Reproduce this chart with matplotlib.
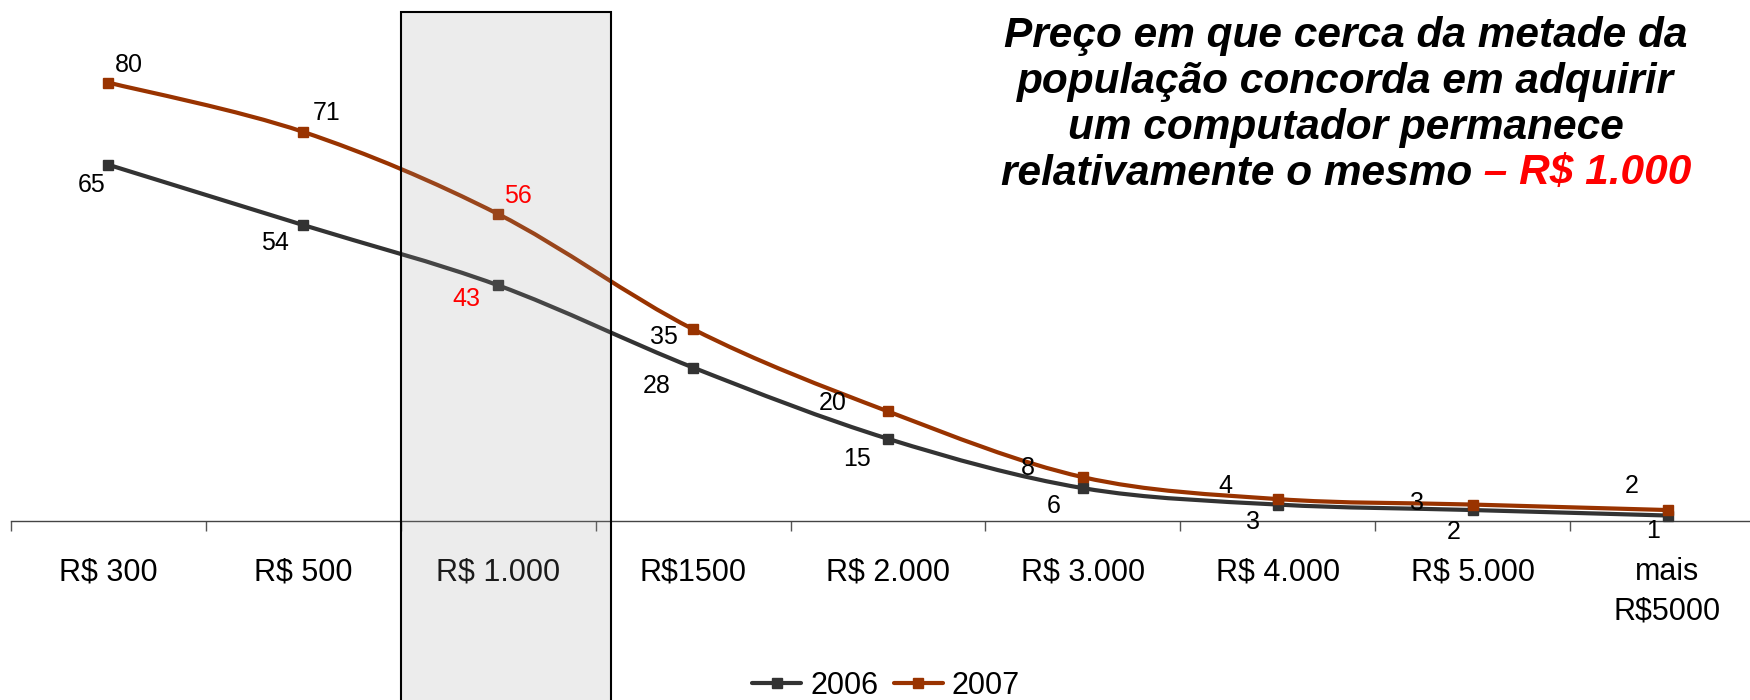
import matplotlib
matplotlib.use("Agg")
import matplotlib.pyplot as plt
from matplotlib.path import Path
from matplotlib.patches import PathPatch, Rectangle
from matplotlib.lines import Line2D

plt.rcParams['font.family'] = ['Liberation Sans', 'DejaVu Sans']

# dados
faixas = ["R$ 300", "R$ 500", "R$ 1.000", "R$1500", "R$ 2.000", "R$ 3.000",
          "R$ 4.000", "R$ 5.000", "mais\nR$5000"]
anos = ["2006", "2007"]
v2006 = [65, 54, 43, 28, 15, 6, 3, 2, 1]
v2007 = [80, 71, 56, 35, 20, 8, 4, 3, 2]
destaque = 2  # faixa R$ 1.000

titulo = ["Preço em que cerca da metade da",
          "população concorda em adquirir",
          "um computador permanece"]
titulo_fim = "relativamente o mesmo"
titulo_vermelho = " – R$ 1.000"

# deslocamento dos rótulos (px, x direita / y para baixo)
off2006 = [(-17, 18), (-28, 15), (-32, 11), (-36, 16), (-31, 18), (-29, 15),
           (-25, 15), (-19, 19), (-14, 13)]
off2007 = [(20, -20), (23, -21), (20, -21), (-29, 5), (-55, -11), (-55, -12),
           (-52, -16), (-56, -4), (-36, -27)]

cores = {"2006": "#333333", "2007": "#993300"}


def smooth_path(xs, ys):
    pts = list(zip(xs, ys))
    n = len(pts)
    verts = [pts[0]]
    codes = [Path.MOVETO]
    for i in range(n - 1):
        p0 = pts[max(i - 1, 0)]
        p1 = pts[i]
        p2 = pts[i + 1]
        p3 = pts[min(i + 2, n - 1)]
        c1 = (p1[0] + (p2[0] - p0[0]) / 6, p1[1] + (p2[1] - p0[1]) / 6)
        c2 = (p2[0] - (p3[0] - p1[0]) / 6, p2[1] - (p3[1] - p1[1]) / 6)
        verts += [c1, c2, p2]
        codes += [Path.CURVE4] * 3
    return Path(verts, codes)


W, H = 1750, 700
fig = plt.figure(figsize=(W / 100, H / 100), dpi=100)
ax = fig.add_axes([11 / W, 0, (1765 - 11) / W, 1])
ax.set_xlim(-0.5, len(faixas) - 0.5)
ax.set_ylim(-179 / 5.48, 521 / 5.48)

x = list(range(len(faixas)))
for ano, vals, offs in [("2006", v2006, off2006), ("2007", v2007, off2007)]:
    c = cores[ano]
    ax.add_patch(PathPatch(smooth_path(x, vals), fill=False, edgecolor=c,
                           lw=3, capstyle='round', joinstyle='round', zorder=3))
    ax.plot(x, vals, 's', color=c, ms=7, zorder=4)
    for i, (v, (dx, dy)) in enumerate(zip(vals, offs)):
        ax.annotate(str(v), (i, v), xytext=(dx, -dy - 2.5), textcoords='offset pixels',
                    ha='center', va='center', fontsize=18,
                    color='red' if i == destaque else 'black', zorder=6)

# caixa de destaque
ax.add_patch(Rectangle((destaque - 0.5, -40), 1.08, 40 + 92.9,
                       facecolor=(0.6, 0.6, 0.6, 0.18), edgecolor='black',
                       lw=1.5, zorder=5, clip_on=False))

for s in ['top', 'left', 'right']:
    ax.spines[s].set_visible(False)
ax.spines['bottom'].set_position(('data', 0))
ax.spines['bottom'].set_color('#444444')
ax.spines['bottom'].set_linewidth(1)
ax.set_yticks([])
ax.set_xticks(x)
ax.set_xticklabels(faixas, fontsize=22)
ax.set_xticks([i - 0.5 for i in range(len(faixas) + 1)], minor=True)
ax.tick_params(axis='x', which='major', length=0, pad=26)
ax.tick_params(axis='x', which='minor', length=7.2, color='#555555', width=1)
ax.get_xticklabels()[-1].set_linespacing(1.42)

handles = [Line2D([], [], color=cores[a], lw=3, marker='s', ms=7,
                  solid_capstyle='round') for a in anos]
fig.legend(handles, anos, loc='center', bbox_to_anchor=(886 / W, 14 / H), ncol=2,
           frameon=False, fontsize=22, handlelength=1.6, handletextpad=0.3,
           columnspacing=0.5)

cx = 1346 / W
base = [47, 93, 139, 185]
tkw = dict(fontsize=30.5, fontweight='bold', fontstyle='italic', va='baseline')
for linha, b in zip(titulo, base):
    fig.text(cx, 1 - b / H, linha, ha='center', **tkw)
t1 = fig.text(0, 1 - base[3] / H, titulo_fim, ha='left', **tkw)
t2 = fig.text(0, 1 - base[3] / H, titulo_vermelho, ha='left', color='red', **tkw)
fig.canvas.draw()
r = fig.canvas.get_renderer()
w1 = t1.get_window_extent(r).width
w2 = t2.get_window_extent(r).width
x0 = 1346 - (w1 + w2) / 2
t1.set_x(x0 / W)
t2.set_x((x0 + w1) / W)

fig.savefig("out.png", dpi=100)
